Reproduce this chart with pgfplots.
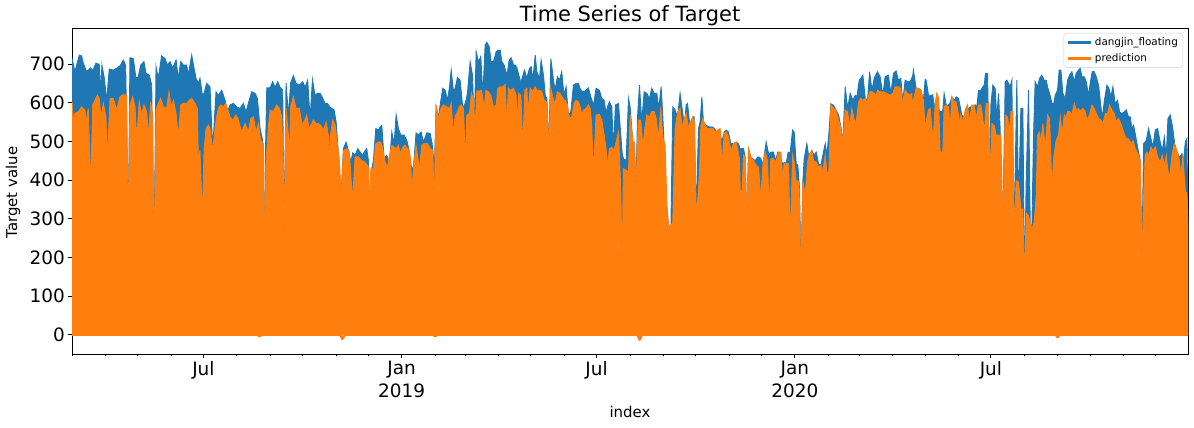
\documentclass[border=0pt]{standalone}
\usepackage{pgfplots}
\pgfplotsset{compat=1.18}
\usepackage{fontspec}
\setmainfont{DejaVu Sans}
\definecolor{mblue}{RGB}{31,119,180}
\definecolor{morange}{RGB}{255,127,14}
\definecolor{lgray}{RGB}{204,204,204}
\begin{document}
\begin{tikzpicture}
\useasboundingbox (0,0) rectangle (1194bp,428bp);
\begin{axis}[
  at={(72bp,74bp)}, anchor=south west,
  scale only axis, width=1116bp, height=326bp,
  xmin=0, xmax=1036, ymin=-50, ymax=793,
  axis line style={line width=0.8bp, black},
  tick align=outside, tick pos=left,
  xtick={122,306,487,671,853},
  xticklabels={Jul,{Jan\\2019},Jul,{Jan\\2020},Jul},
  minor xtick={0,31,61,92,153,184,214,245,275,337,365,396,426,457,518,549,579,610,640,702,731,762,792,823,884,915,945,976,1006},
  ytick={0,100,200,300,400,500,600,700},
  major tick length=4bp, minor tick length=2.3bp,
  every tick/.style={black, line width=0.8bp},
  /pgf/number format/assume math mode=true,
  xticklabel style={font=\fontsize{18.5}{22.5}\selectfont, align=center, anchor=north, inner sep=0pt, yshift=-3bp},
  yticklabel style={font=\fontsize{18.5}{22.5}\selectfont, anchor=east, inner sep=0pt, xshift=-3bp},
  legend style={at={(rel axis cs:1,1)}, anchor=north east, xshift=-5bp, yshift=-5bp,
    draw=lgray, rounded corners=2.5bp, fill=white, fill opacity=0.8, text opacity=1,
    font=\fontsize{10.4}{12}\selectfont, inner xsep=3bp, inner ysep=2.5bp, row sep=2.5bp},
  legend cell align=left,
  legend image code/.code={\draw[line width=3bp] (0bp,0bp) -- (23bp,0bp);},
]
\addplot[draw=mblue, fill=mblue, line width=0.9bp, line join=miter] coordinates {
(0,715) (2.7,680) (4.3,697) (6.8,723) (8.9,721) (10.5,702) (13.6,680) (17.3,690) (19.2,682) (22.2,702)
(25.3,699) (26.6,628) (27.8,697) (30.0,663) (32.2,606) (34.6,687) (38.3,684) (41.4,689) (44.5,695) (47.6,710)
(49.8,697) (52.3,275) (53.8,716) (56.9,714) (59.4,663) (61.6,667) (63.7,697) (66.8,706) (68.7,676) (71.8,671)
(74.0,645) (76.1,182) (78.0,693) (80.1,663) (83.2,721) (86.3,714) (88.5,697) (91.0,706) (93.5,689) (96.6,710)
(98.7,663) (100.9,706) (103.4,697) (106.5,697) (108.0,671) (111.1,723) (113.3,689) (115.1,663) (117.3,650) (118.8,663)
(121.0,620) (122.6,624) (125.0,650) (128.1,641) (130.6,480) (133.7,628) (135.9,619) (139.0,632) (142.1,606) (144.2,576)
(146.7,594) (149.8,598) (152.9,589) (156.0,585) (159.1,598) (161.6,576) (163.7,598) (166.8,628) (169.9,624) (172.1,611)
(174.6,533) (177.0,502) (178.3,187) (179.5,455) (180.8,638) (183.9,638) (186.3,654) (188.5,640) (191.0,654) (193.1,640)
(195.6,632) (196.9,252) (198.7,651) (200.9,568) (203.0,651) (205.5,670) (208.0,650) (211.1,645) (214.2,654) (216.4,640)
(218.8,658) (221.0,559) (223.2,660) (225.6,619) (227.8,624) (230.3,624) (232.8,611) (234.9,598) (237.1,598) (239.0,590)
(241.1,585) (243.3,581) (245.2,550) (247.3,468) (249.8,360) (252.0,481) (254.4,498) (256.6,476) (258.8,446) (260.6,470)
(262.8,464) (265.3,481) (267.4,472) (269.6,464) (272.1,476) (273.6,481) (275.2,450) (276.1,307) (278.3,429) (279.8,450)
(282.0,533) (284.5,529) (286.0,537) (287.6,541) (289.7,455) (292.2,464) (294.7,442) (296.9,524) (299.0,493) (300.9,568)
(303.0,533) (305.2,516) (308.3,516) (310.8,502) (312.3,485) (314.5,442) (315.4,430) (317.0,433) (319.4,522) (321.6,516)
(322.5,520) (324.1,524) (326.3,498) (329.4,522) (332.5,520) (334.3,494) (335.5,460) (336.5,440) (338.0,589) (340.2,563)
(342.4,606) (344.2,637) (346.4,632) (348.6,606) (350.4,640) (352.0,684) (354.1,630) (355.7,637) (357.8,665) (360.3,658)
(362.8,585) (365.3,600) (367.1,624) (369.6,706) (371.8,671) (373.3,533) (375.2,732) (377.3,706) (379.5,719) (381.4,619)
(383.5,749) (385.1,756) (387.3,745) (389.1,706) (391.3,706) (393.8,732) (395.9,736) (397.5,736) (399.0,706) (401.2,697)
(403.0,676) (404.3,680) (405.8,710) (407.7,716) (409.9,697) (411.7,697) (413.0,690) (415.4,665) (416.7,651) (418.5,670)
(420.1,684) (422.2,663) (424.7,689) (426.3,693) (427.8,658) (430.0,723) (431.5,680) (434.0,663) (435.5,710) (437.7,671)
(439.3,619) (440.8,611) (442.7,481) (444.5,714) (447.0,658) (448.4,632) (450.6,667) (452.5,658) (454.6,680) (456.8,619)
(458.7,641) (460.8,568) (463.0,576) (465.5,645) (467.9,650) (470.1,650) (472.3,632) (474.8,628) (477.2,632) (479.4,638)
(481.6,615) (483.4,600) (484.0,590) (486.5,637) (489.6,632) (491.8,611) (494.0,606) (495.8,572) (497.1,590) (498.9,602)
(501.1,589) (502.6,481) (504.5,594) (507.3,598) (508.8,541) (510.7,470) (511.9,455) (514.4,450) (516.6,611) (518.1,589)
(520.6,498) (521.8,498) (523.7,386) (524.9,559) (526.8,645) (528.9,550) (531.1,628) (533.6,624) (536.1,611) (538.2,637)
(540.4,624) (542.9,624) (544.7,585) (546.9,641) (548.4,568) (549.7,489) (551.5,342) (553.7,286) (555.9,265) (557.7,589)
(559.9,581) (562.1,563) (564.5,624) (567.0,572) (568.6,537) (570.1,594) (571.4,598) (573.8,533) (576.3,563) (577.5,563)
(579.4,316) (581.6,533) (583.1,550) (584.7,615) (586.2,550) (588.7,541) (591.8,537) (594.9,537) (596.1,533) (598.6,524)
(601.1,529) (603.2,498) (605.4,524) (607.3,529) (609.4,524) (611.6,494) (614.1,494) (616.5,498) (618.7,494) (620.3,480)
(621.8,481) (623.4,481) (624.9,459) (626.5,282) (628.0,481) (630.2,459) (632.0,455) (634.2,450) (636.4,459) (638.2,459)
(639.5,455) (641.3,438) (642.6,464) (644.4,498) (646.0,476) (647.2,465) (648.7,472) (651.2,472) (653.1,450) (655.2,472)
(657.4,464) (659.9,438) (661.1,446) (663.0,442) (664.8,472) (666.7,470) (668.9,529) (670.4,524) (672.3,442) (673.8,438)
(675.4,377) (676.6,156) (678.5,398) (679.7,455) (682.2,494) (684.7,446) (686.8,476) (689.0,464) (690.9,472) (693.0,442)
(695.2,438) (697.0,464) (699.2,494) (700.8,464) (702.6,520) (704.5,597) (707.0,593) (709.1,581) (711.6,568) (713.8,537)
(715.6,498) (717.8,641) (720.0,585) (722.4,624) (724.9,606) (727.1,619) (728.6,615) (730.8,658) (732.3,663) (734.2,671)
(736.4,611) (738.5,606) (740.4,680) (742.6,632) (744.7,663) (747.7,680) (750.2,667) (752.7,619) (754.8,667) (757.9,671)
(760.1,624) (762.6,676) (765.0,682) (767.2,658) (769.4,663) (771.2,602) (773.4,658) (775.6,654) (777.4,654) (778.7,658)
(780.5,670) (781.1,684) (783.6,637) (785.8,637) (788.0,632) (790.4,606) (792.0,660) (792.9,658) (795.1,619) (797.2,619)
(799.1,620) (800.7,585) (802.8,619) (805.0,580) (806.8,576) (808.4,580) (809.6,624) (811.5,594) (813.7,594) (815.2,600)
(816.8,615) (818.9,606) (820.8,615) (823.0,611) (824.5,590) (826.0,568) (828.2,563) (830.1,576) (832.2,585) (834.4,589)
(836.9,585) (838.4,594) (840.0,589) (841.5,632) (843.7,632) (845.5,641) (846.8,645) (848.0,676) (849.9,676) (851.7,403)
(853.0,594) (854.8,645) (857.0,637) (858.5,559) (860.1,624) (861.6,533) (864.1,273) (866.3,654) (867.8,658) (869.4,650)
(870.9,641) (872.5,658) (874.0,248) (875.6,420) (877.1,658) (878.7,325) (880.8,585) (882.7,585) (884.2,135) (885.8,399)
(888.0,632) (889.5,290) (891.0,265) (892.6,516) (894.1,654) (896.3,641) (898.2,663) (900.3,671) (902.5,658) (904.4,658)
(905.6,641) (907.5,624) (909.6,600) (911.2,594) (912.7,619) (914.9,632) (916.4,684) (918.0,684) (919.8,624) (922.0,611)
(924.2,658) (926.0,671) (928.2,680) (930.4,654) (932.2,676) (934.4,684) (935.9,689) (937.5,667) (939.7,667) (941.5,654)
(943.7,619) (945.2,650) (947.1,680) (948.9,680) (950.8,667) (953.0,645) (954.5,606) (956.4,559) (958.2,602) (960.7,645)
(962.6,637) (964.4,615) (966.3,641) (968.4,598) (970.6,606) (972.5,576) (974.6,572) (976.8,576) (978.7,581) (980.8,563)
(982.4,563) (983.9,533) (985.5,541) (987.0,520) (988.6,494) (990.1,472) (991.7,450) (993.2,196) (994.8,494) (997.2,502)
(999.4,533) (1001.6,507) (1003.4,485) (1005.6,529) (1007.8,533) (1010.2,498) (1012.1,476) (1014.0,511) (1015.8,459) (1017.4,559)
(1019.5,568) (1021.7,537) (1023.6,494) (1025.7,472) (1028.2,459) (1030.4,468) (1031.9,450) (1033.5,498) (1035.0,507) (1036,290)
} \closedcycle;
\addlegendentry{dangjin\_floating}
\addplot[draw=morange, fill=morange, line width=0.9bp, line join=miter] coordinates {
(0,602) (1.8,542) (2.7,572) (5.8,576) (8.9,589) (12.0,581) (13.0,546) (15.1,585) (17.3,380) (19.2,594)
(21.3,606) (23.5,619) (25.3,611) (26.9,563) (29.1,598) (31.5,563) (32.8,451) (35.3,611) (38.3,611) (41.4,581)
(44.5,615) (47.6,621) (50.7,619) (52.3,273) (53.8,594) (56.3,615) (58.5,589) (60.0,507) (62.5,602) (64.7,568)
(66.8,594) (69.3,576) (71.2,511) (73.0,602) (74.9,563) (76.4,182) (78.0,581) (80.1,598) (82.3,611) (84.8,589)
(87.9,585) (90.0,628) (91.9,589) (94.1,606) (96.6,572) (98.7,511) (100.9,594) (103.4,598) (106.5,598) (108.9,606)
(111.1,611) (114.2,598) (116.4,585) (117.3,446) (118.8,477) (121.0,300) (122.6,477) (124.4,533) (126.6,542) (128.1,533)
(130.6,477) (133.7,555) (135.9,585) (138.0,594) (140.5,589) (142.7,598) (144.2,585) (146.7,563) (149.2,555) (152.3,568)
(154.4,555) (157.5,524) (160.6,546) (163.7,524) (165.9,559) (168.4,563) (170.8,524) (173.0,546) (175.2,502) (177.7,494)
(178.6,187) (180.1,446) (182.3,537) (183.9,581) (186.9,577) (190.0,594) (192.5,585) (194.7,563) (196.2,438) (196.9,252)
(198.7,585) (200.9,515) (201.8,451) (203.0,589) (205.5,615) (208.0,585) (211.1,585) (213.3,546) (215.4,550) (217.9,568)
(220.1,533) (221.6,541) (224.1,555) (226.6,546) (228.7,546) (230.9,541) (233.4,529) (235.9,550) (238.0,515) (239.0,412)
(239.6,511) (242.1,555) (244.2,541) (245.8,507) (248.2,450) (249.8,356) (252.0,476) (255.1,481) (257.5,472) (258.8,412)
(260.6,351) (262.8,460) (265.9,460) (269.0,450) (272.1,446) (275.2,433) (276.1,307) (277.4,429) (279.8,429) (282.0,494)
(284.5,498) (286.6,498) (288.5,481) (290.7,446) (292.8,433) (294.7,464) (296.9,489) (299.0,485) (300.9,481) (303.0,490)
(304.6,468) (307.1,485) (309.2,490) (311.4,481) (313.3,476) (314.5,442) (315.4,368) (317.0,429) (319.4,489) (322.5,429)
(324.7,490) (326.9,494) (330.0,494) (332.5,481) (334.9,476) (336.2,334) (338.0,594) (340.2,559) (342.4,585) (344.8,594)
(347.9,589) (350.4,585) (352.0,598) (354.1,516) (355.7,566) (357.2,572) (359.4,589) (361.2,594) (363.4,585) (365.3,446)
(366.5,568) (369.0,572) (370.8,624) (372.7,607) (374.2,533) (375.8,630) (378.3,630) (380.1,632) (381.4,611) (382.6,581)
(384.2,632) (386.6,628) (388.8,619) (391.3,589) (393.8,594) (395.3,637) (397.5,641) (399.9,641) (402.1,647) (403.7,550)
(405.2,637) (407.4,632) (409.9,637) (412.3,619) (413.0,550) (414.8,624) (416.7,619) (418.5,485) (420.4,632) (422.2,637)
(423.5,576) (425.3,638) (427.8,628) (430.0,641) (431.5,632) (434.0,632) (436.2,628) (438.3,606) (440.8,602) (442.7,485)
(444.5,637) (447.0,606) (448.4,598) (450.6,628) (453.1,624) (455.6,611) (457.7,606) (459.9,594) (461.8,559) (463.9,563)
(466.1,598) (468.0,606) (470.1,602) (471.7,589) (473.2,568) (474.8,581) (477.2,585) (479.4,594) (481.0,585) (482.5,541)
(484.0,416) (486.5,568) (489.6,570) (491.8,555) (494.0,516) (495.8,481) (497.1,433) (498.9,481) (501.1,485) (503.2,476)
(505.1,498) (507.3,524) (509.4,377) (510.7,182) (511.9,429) (514.4,425) (516.6,420) (518.1,568) (520.6,498) (521.8,498)
(523.7,386) (524.9,494) (525.8,555) (528.0,555) (529.9,485) (531.7,533) (533.6,568) (536.1,563) (538.2,577) (540.4,577)
(542.3,559) (544.4,507) (546.6,589) (548.4,511) (550.6,489) (552.2,342) (553.7,282) (555.9,282) (557.7,290) (559.9,533)
(562.4,577) (564.5,585) (566.4,533) (568.3,559) (570.1,572) (572.3,533) (573.8,550) (576.3,563) (577.9,546) (579.4,316)
(581.0,351) (582.5,420) (583.7,537) (585.6,559) (587.8,541) (589.9,533) (592.4,533) (594.9,533) (597.0,524) (599.2,529)
(601.7,533) (603.5,438) (605.4,520) (607.3,524) (609.4,511) (611.6,476) (614.1,494) (616.5,498) (619.6,455) (620.3,377)
(621.8,360) (623.4,464) (624.9,459) (626.5,282) (628.0,481) (630.2,459) (632.6,450) (635.1,438) (637.3,433) (639.5,351)
(641.3,438) (643.5,472) (645.7,450) (647.2,316) (648.7,455) (651.2,455) (653.4,446) (655.9,472) (658.0,472) (659.9,403)
(661.1,442) (663.6,442) (665.2,442) (666.7,238) (668.9,464) (670.4,446) (672.3,394) (673.5,398) (674.8,394) (676.6,156)
(678.5,398) (680.6,360) (682.8,446) (684.7,468) (686.8,476) (688.4,450) (690.9,446) (693.0,433) (695.2,438) (697.0,420)
(699.2,464) (700.8,420) (702.6,420) (704.5,594) (707.0,585) (709.1,581) (711.6,555) (713.8,533) (715.6,498) (717.8,581)
(720.0,577) (721.8,537) (724.0,585) (726.1,555) (728.0,550) (730.2,602) (732.3,611) (734.2,606) (736.4,611) (737.9,598)
(740.4,628) (742.6,628) (744.7,624) (746.5,619) (747.7,632) (750.2,628) (753.3,628) (756.4,624) (759.5,619) (762.0,624)
(764.1,641) (767.2,641) (769.4,637) (770.9,598) (773.4,632) (775.6,624) (777.4,619) (779.6,624) (780.5,563) (781.1,606)
(783.6,637) (785.8,637) (788.0,632) (790.4,606) (792.0,533) (793.5,559) (795.1,581) (796.6,585) (798.2,533) (799.7,516)
(801.3,598) (802.8,624) (804.4,611) (805.9,472) (808.4,472) (809.6,589) (811.5,594) (813.7,589) (815.2,533) (816.8,615)
(818.9,602) (820.8,602) (823.0,568) (824.5,541) (825.1,568) (827.0,550) (829.1,581) (831.3,594) (833.2,550) (835.3,594)
(837.5,594) (839.4,559) (841.5,594) (843.7,594) (845.5,559) (847.1,524) (848.6,598) (850.8,598) (852.4,403) (853.9,546)
(856.1,541) (857.9,516) (860.1,516) (862.3,516) (864.1,273) (866.3,568) (868.5,563) (870.3,524) (871.6,577) (873.4,577)
(874.6,248) (876.5,398) (878.7,394) (880.8,325) (882.7,325) (884.2,135) (885.8,315) (888.0,307) (891.0,273) (893.2,290)
(895.1,360) (896.3,516) (898.2,524) (899.4,494) (901.3,546) (903.4,481) (905.6,568) (907.5,559) (909.6,381) (911.2,455)
(913.6,502) (915.8,516) (917.4,563) (919.2,520) (921.1,568) (922.9,563) (924.2,577) (926.0,577) (928.2,568) (930.4,598)
(932.2,581) (934.4,585) (935.9,577) (938.4,585) (940.6,577) (942.1,555) (944.6,568) (946.8,594) (948.9,585) (950.8,572)
(953.0,559) (955.1,555) (957.0,546) (959.2,572) (961.3,572) (963.2,594) (965.4,581) (967.5,572) (969.4,550) (971.5,559)
(973.7,546) (976.2,524) (978.7,507) (980.8,507) (983.0,494) (984.9,502) (987.0,481) (988.6,472) (990.1,464) (991.7,446)
(993.2,192) (994.8,356) (996.3,464) (997.9,472) (999.4,460) (1001.6,485) (1003.4,476) (1005.6,485) (1007.8,460) (1010.2,446)
(1012.1,464) (1014.0,438) (1015.8,464) (1017.1,429) (1018.9,403) (1021.1,464) (1023.3,494) (1025.7,476) (1027.6,455) (1029.4,412)
(1031.3,464) (1033.5,368) (1035.0,368) (1036,290)
} \closedcycle;
\addlegendentry{prediction}
\addplot[forget plot, draw=morange, line width=2.5bp, line join=round] coordinates {
(0,0) (172,0) (174,-4) (176,0) (249,0) (251,-11) (253,0) (335,0) (337,-4) (339,0) (525,0) (527,-13) (529,0) (913,0) (915,-6) (917,0) (1036,0)
};
\end{axis}
\node[font=\fontsize{21}{25}\selectfont, anchor=base] at (630bp,406bp) {Time Series of Target};
\node[font=\fontsize{15}{18}\selectfont, rotate=90] at (13bp,235.5bp) {Target value};
\node[font=\fontsize{15}{18}\selectfont] at (630bp,16bp) {index};
\end{tikzpicture}
\end{document}
